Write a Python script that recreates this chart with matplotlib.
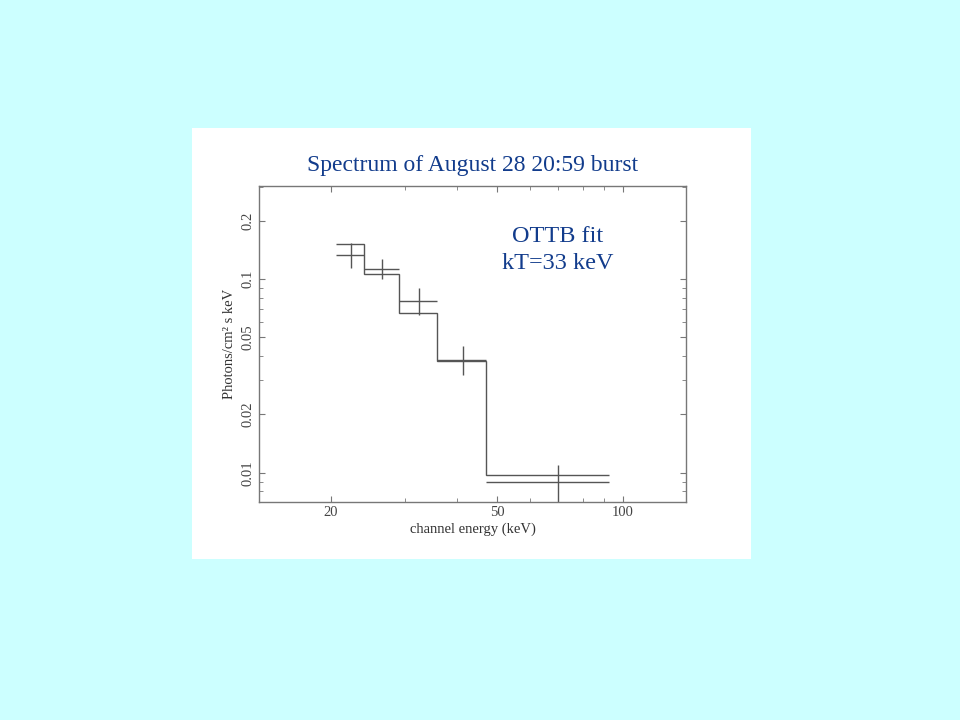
import numpy as np
import matplotlib.pyplot as plt
from matplotlib.ticker import FixedLocator, NullFormatter

# bin edges (keV) and values
edges = [20.6, 24.0, 29.1, 35.9, 46.9, 92.4]
e_mid = [22.3, 26.5, 32.5, 41.5, 69.7]
flux = [0.133, 0.113, 0.0773, 0.0384, 0.00894]
flux_hi = [0.154, 0.127, 0.0899, 0.0449, 0.0109]
flux_lo = [0.114, 0.100, 0.0655, 0.0321, 0.0065]
model = [0.1525, 0.106, 0.067, 0.0376, 0.00972]

title = "Spectrum of August 28 20:59 burst"
note = "OTTB fit\nkT=33 keV"
ytick_vals = [0.01, 0.02, 0.05, 0.1, 0.2]
ytick_labels = ["0.01", "0.02", "0.05", "0.1", "0.2"]
xtick_vals = [20, 50, 100]

bg = "#ccffff"
blue = "#123c8c"
grey = "#555555"
serif = ["Liberation Serif", "DejaVu Serif"]

fig = plt.figure(figsize=(9.6, 7.2), dpi=100, facecolor=bg)
# white panel
fig.add_artist(plt.Rectangle((192 / 960, 1 - 559 / 720), 559 / 960, 431 / 720,
                             transform=fig.transFigure, facecolor="white",
                             edgecolor="none", zorder=0))

ax = fig.add_axes([259 / 960, 1 - 501.5 / 720, 427 / 960, 316 / 720])
ax.set_facecolor("white")
ax.set_xscale("log")
ax.set_yscale("log")
ax.set_xlim(13.45, 141.4)
ax.set_ylim(0.0071, 0.304)

lo = np.array(edges[:-1])
hi = np.array(edges[1:])
f = np.array(flux)

# data: horizontal bin bars + vertical error bars
ax.errorbar(e_mid, f, xerr=[np.array(e_mid) - lo, hi - np.array(e_mid)],
            yerr=[f - np.array(flux_lo), np.array(flux_hi) - f],
            fmt="none", ecolor=grey, elinewidth=1.0, capsize=0)

# model as step histogram
ax.stairs(model, edges, color=grey, linewidth=1.0, baseline=None)

for s in ax.spines.values():
    s.set_color("#777777")
    s.set_linewidth(1.0)

ax.xaxis.set_major_locator(FixedLocator(xtick_vals))
ax.xaxis.set_minor_locator(FixedLocator([30, 40, 60, 70, 80, 90]))
ax.xaxis.set_minor_formatter(NullFormatter())
ax.set_xticklabels([str(v) for v in xtick_vals])
ax.yaxis.set_major_locator(FixedLocator(ytick_vals))
ax.yaxis.set_minor_locator(FixedLocator([0.008, 0.009, 0.03, 0.04, 0.06,
                                         0.07, 0.08, 0.09, 0.3]))
ax.yaxis.set_minor_formatter(NullFormatter())
ax.set_yticklabels(ytick_labels, rotation=90, va="center")
ax.tick_params(which="both", direction="in", top=True, right=True,
               color="#777777", labelcolor="#444444", labelsize=10.5)
ax.tick_params(which="major", length=4)
ax.tick_params(which="minor", length=3)
for lab in ax.get_xticklabels() + ax.get_yticklabels():
    lab.set_family(serif)

ax.set_xlabel("channel energy (keV)", family=serif, fontsize=10.5,
              color="#333333", labelpad=2)
ax.set_ylabel("Photons/cm\u00b2 s keV", family=serif, fontsize=10.5,
              color="#333333", labelpad=4)

fig.text(473 / 960, 1 - 166 / 720, title, family=serif, fontsize=17,
         color=blue, ha="center", va="center")
ax.text(0.70, 0.795, note, transform=ax.transAxes, family=serif, fontsize=17.5,
        color=blue, ha="center", va="center", linespacing=1.35)

fig.savefig("out.png", dpi=100, facecolor=bg)
